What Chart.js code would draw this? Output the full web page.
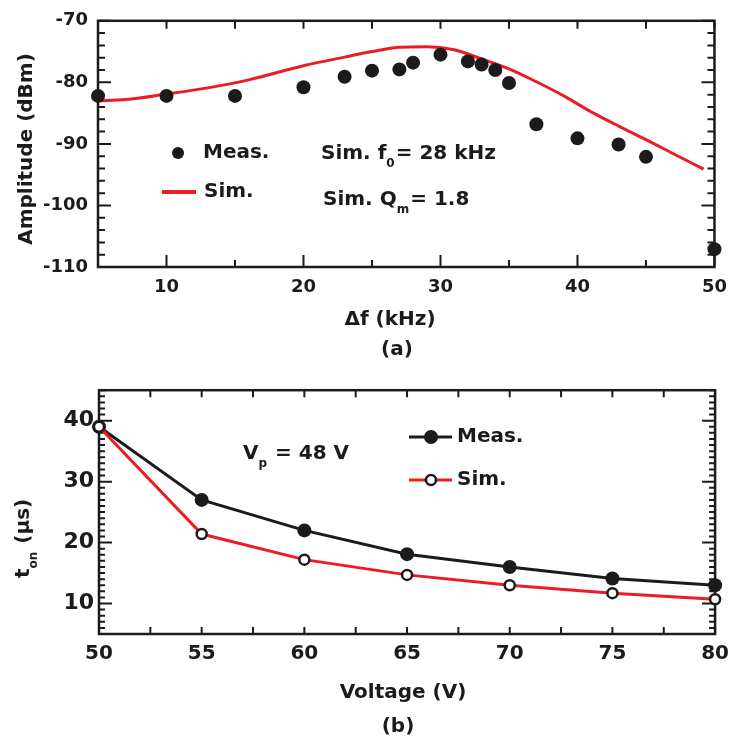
<!DOCTYPE html>
<html>
<head>
<meta charset="utf-8">
<script src="https://cdn.jsdelivr.net/npm/chart.js@4.4.1/dist/chart.umd.min.js"></script>
<style>
  html, body { margin: 0; padding: 0; background: #fff; }
  .box { position: absolute; left: 0; width: 737px; height: 372px; }
</style>
</head>
<body>
<div class="box" style="top:0"><canvas id="chartA" width="737" height="372"></canvas></div>
<div class="box" style="top:372px"><canvas id="chartB" width="737" height="372"></canvas></div>
<script>
// (a) amplitud frente a desplazamiento de frecuencia
const measFreq = [5, 10, 15, 20, 23, 25, 27, 28, 30, 32, 33, 34, 35, 37, 40, 43, 45, 50];
const measAmp = [-82.2, -82.2, -82.2, -80.8, -79.1, -78.1, -77.9, -76.8, -75.5, -76.6, -77.1, -78.0, -80.1, -86.8, -89.1, -90.1, -92.1, -107.1];
const simFreq = [5, 7, 10, 13, 16, 20, 23, 25, 27, 29, 31, 33, 35, 37, 39, 41, 43, 45, 47, 49.2];
const simAmp = [-83.0, -82.8, -81.9, -80.9, -79.6, -77.3, -75.9, -75.0, -74.3, -74.2, -74.7, -76.2, -77.8, -79.9, -82.2, -84.8, -87.1, -89.3, -91.6, -94.1];
const freqTicks = [10, 20, 30, 40, 50];
const ampTicks = [-110, -100, -90, -80, -70];

// (b) tiempo de encendido frente a tensión
const voltage = [50, 55, 60, 65, 70, 75, 80];
const tonMeas = [39, 27, 22, 18.1, 16, 14.1, 13];
const tonSim = [39, 21.4, 17.2, 14.7, 13, 11.7, 10.7];
const voltTicks = [50, 55, 60, 65, 70, 75, 80];
const tonTicks = [10, 20, 30, 40];

const INK = '#1c1a1b';
const RED = '#ec1c24';
const FONT = "'DejaVu Sans', 'Liberation Sans', sans-serif";

Chart.defaults.font.family = FONT;
Chart.defaults.font.weight = 'bold';
Chart.defaults.color = INK;

const pts = (xs, ys) => xs.map((x, i) => ({ x: x, y: ys[i] }));
const fixTicks = vals => s => { s.ticks = vals.map(v => ({ value: v })); };

// marcas de graduación hacia dentro, en los cuatro lados
function tickRow(ctx, scale, step, len, edge, horizontal) {
  let v = Math.ceil(scale.min / step - 1e-9) * step;
  for (; v <= scale.max + 1e-9; v += step) {
    const p = scale.getPixelForValue(v);
    if (horizontal) { ctx.moveTo(p, edge); ctx.lineTo(p, edge + len); }
    else { ctx.moveTo(edge, p); ctx.lineTo(edge + len, p); }
  }
}

function framePlugin(cfg) {
  return {
    id: 'frame',
    beforeDatasetsDraw(chart) {
      const { ctx, chartArea: a, scales: { x, y } } = chart;
      ctx.save();
      ctx.strokeStyle = INK;
      ctx.lineWidth = 2;
      ctx.beginPath();
      cfg.xBottom.forEach(([step, len]) => tickRow(ctx, x, step, -len, a.bottom, true));
      cfg.xTop.forEach(([step, len]) => tickRow(ctx, x, step, len, a.top, true));
      cfg.y.forEach(([step, len]) => {
        tickRow(ctx, y, step, len, a.left, false);
        tickRow(ctx, y, step, -len, a.right, false);
      });
      ctx.stroke();
      ctx.lineWidth = 2.5;
      ctx.strokeRect(a.left, a.top, a.right - a.left, a.bottom - a.top);
      ctx.restore();
    },
    afterDraw(chart) {
      const ctx = chart.ctx;
      ctx.save();
      ctx.fillStyle = INK;
      ctx.textBaseline = 'middle';
      cfg.text(ctx, chart);
      ctx.restore();
    }
  };
}

// texto con subíndice: [normal, sub, resto]
function subText(ctx, x, y, size, main, sub, rest) {
  ctx.textAlign = 'left';
  ctx.font = `bold ${size}px ${FONT}`;
  ctx.fillText(main, x, y);
  x += ctx.measureText(main).width;
  ctx.font = `bold ${Math.round(size * 0.62)}px ${FONT}`;
  ctx.fillText(sub, x, y + size * 0.5);
  x += ctx.measureText(sub).width + 1;
  ctx.font = `bold ${size}px ${FONT}`;
  ctx.fillText(rest, x, y);
}

function centered(ctx, txt, x, y, size, rot) {
  ctx.save();
  ctx.translate(x, y);
  if (rot) ctx.rotate(rot);
  ctx.textAlign = 'center';
  ctx.font = `bold ${size}px ${FONT}`;
  ctx.fillText(txt, 0, 0);
  ctx.restore();
}

const baseOptions = {
  responsive: false,
  animation: false,
  events: [],
  plugins: { legend: { display: false }, tooltip: { enabled: false } }
};

// ---------- (a) ----------
new Chart(document.getElementById('chartA'), {
  type: 'scatter',
  data: {
    datasets: [{
      label: 'Meas.',
      data: pts(measFreq, measAmp),
      pointRadius: 7,
      pointBackgroundColor: INK,
      pointBorderWidth: 0,
      clip: false,
      order: 0
    }, {
      label: 'Sim.',
      data: pts(simFreq, simAmp),
      showLine: true,
      borderColor: RED,
      borderWidth: 3,
      pointRadius: 0,
      cubicInterpolationMode: 'monotone',
      order: 1
    }]
  },
  options: {
    ...baseOptions,
    layout: { padding: { left: 0, top: 18, right: 17, bottom: 0 } },
    scales: {
      x: {
        min: 5, max: 50,
        afterBuildTicks: fixTicks(freqTicks),
        afterFit: s => { s.height = 105; },
        grid: { display: false, drawTicks: false },
        border: { display: false },
        ticks: { padding: 10, font: { size: 18 } }
      },
      y: {
        min: -110, max: -70,
        afterBuildTicks: fixTicks(ampTicks),
        afterFit: s => { s.width = 98; },
        grid: { display: false, drawTicks: false },
        border: { display: false },
        ticks: { padding: 10, font: { size: 18 } }
      }
    }
  },
  plugins: [framePlugin({
    xBottom: [[5, 7], [10, 12]],
    xTop: [[5, 8]],
    y: [[2, 7], [10, 13]],
    text(ctx, chart) {
      const ds = chart.data.datasets;
      // leyenda
      ctx.beginPath();
      ctx.fillStyle = ds[0].pointBackgroundColor;
      ctx.arc(178, 153, 6, 0, Math.PI * 2);
      ctx.fill();
      ctx.strokeStyle = ds[1].borderColor;
      ctx.lineWidth = 4;
      ctx.beginPath();
      ctx.moveTo(162, 192); ctx.lineTo(196, 192);
      ctx.stroke();
      ctx.fillStyle = INK;
      ctx.textAlign = 'left';
      ctx.font = `bold 20px ${FONT}`;
      ctx.fillText(ds[0].label, 203, 153);
      ctx.fillText(ds[1].label, 204, 192);
      subText(ctx, 321, 154, 20, 'Sim. f', '0', '= 28 kHz');
      subText(ctx, 323, 200, 20, 'Sim. Q', 'm', '= 1.8');
      centered(ctx, 'Amplitude (dBm)', 27, 149, 20, -Math.PI / 2);
      centered(ctx, '\u0394f (kHz)', 390, 320, 20);
      centered(ctx, '(a)', 397, 350, 20);
    }
  })]
});

// ---------- (b) ----------
new Chart(document.getElementById('chartB'), {
  type: 'line',
  data: {
    datasets: [{
      label: 'Meas.',
      data: pts(voltage, tonMeas),
      borderColor: INK,
      borderWidth: 3,
      pointRadius: 7,
      pointBackgroundColor: INK,
      pointBorderWidth: 0,
      clip: false,
      order: 1
    }, {
      label: 'Sim.',
      data: pts(voltage, tonSim),
      borderColor: RED,
      borderWidth: 3,
      pointRadius: 5,
      pointBackgroundColor: '#fff',
      pointBorderColor: INK,
      pointBorderWidth: 2.5,
      clip: false,
      order: 0
    }]
  },
  options: {
    ...baseOptions,
    layout: { padding: { left: 0, top: 13, right: 17, bottom: 0 } },
    scales: {
      x: {
        type: 'linear',
        min: 50, max: 80,
        afterBuildTicks: fixTicks(voltTicks),
        afterFit: s => { s.height = 110; },
        grid: { display: false, drawTicks: false },
        border: { display: false },
        ticks: { padding: 8, font: { size: 20 } }
      },
      y: {
        min: 5, max: 45,
        afterBuildTicks: fixTicks(tonTicks),
        afterFit: s => { s.width = 99; },
        grid: { display: false, drawTicks: false },
        border: { display: false },
        ticks: { padding: 5, font: { size: 22 } }
      }
    }
  },
  plugins: [framePlugin({
    xBottom: [[2.5, 7]],
    xTop: [[2.5, 7]],
    y: [[1, 6], [10, 13]],
    text(ctx, chart) {
      const ds = chart.data.datasets;
      // leyenda con línea y marcador
      [[ds[0], 65], [ds[1], 108]].forEach(([d, ly]) => {
        ctx.strokeStyle = d.borderColor;
        ctx.lineWidth = 3;
        ctx.beginPath();
        ctx.moveTo(409, ly); ctx.lineTo(452, ly);
        ctx.stroke();
        ctx.beginPath();
        ctx.arc(431, ly, d.pointRadius, 0, Math.PI * 2);
        ctx.fillStyle = d.pointBackgroundColor;
        ctx.fill();
        if (d.pointBorderWidth) {
          ctx.lineWidth = d.pointBorderWidth;
          ctx.strokeStyle = d.pointBorderColor;
          ctx.stroke();
        }
        ctx.fillStyle = INK;
        ctx.textAlign = 'left';
        ctx.font = `bold 20px ${FONT}`;
        ctx.fillText(d.label, 457, ly);
      });
      subText(ctx, 243, 82, 20, 'V', 'p', ' = 48 V');
      // título del eje y con subíndice, girado
      ctx.save();
      ctx.translate(24, 206);
      ctx.rotate(-Math.PI / 2);
      subText(ctx, 0, 0, 20, 't', 'on', ' (\u03bcs)');
      ctx.restore();
      centered(ctx, 'Voltage (V)', 403, 321, 20);
      centered(ctx, '(b)', 398, 355, 20);
    }
  })]
});
</script>
</body>
</html>
